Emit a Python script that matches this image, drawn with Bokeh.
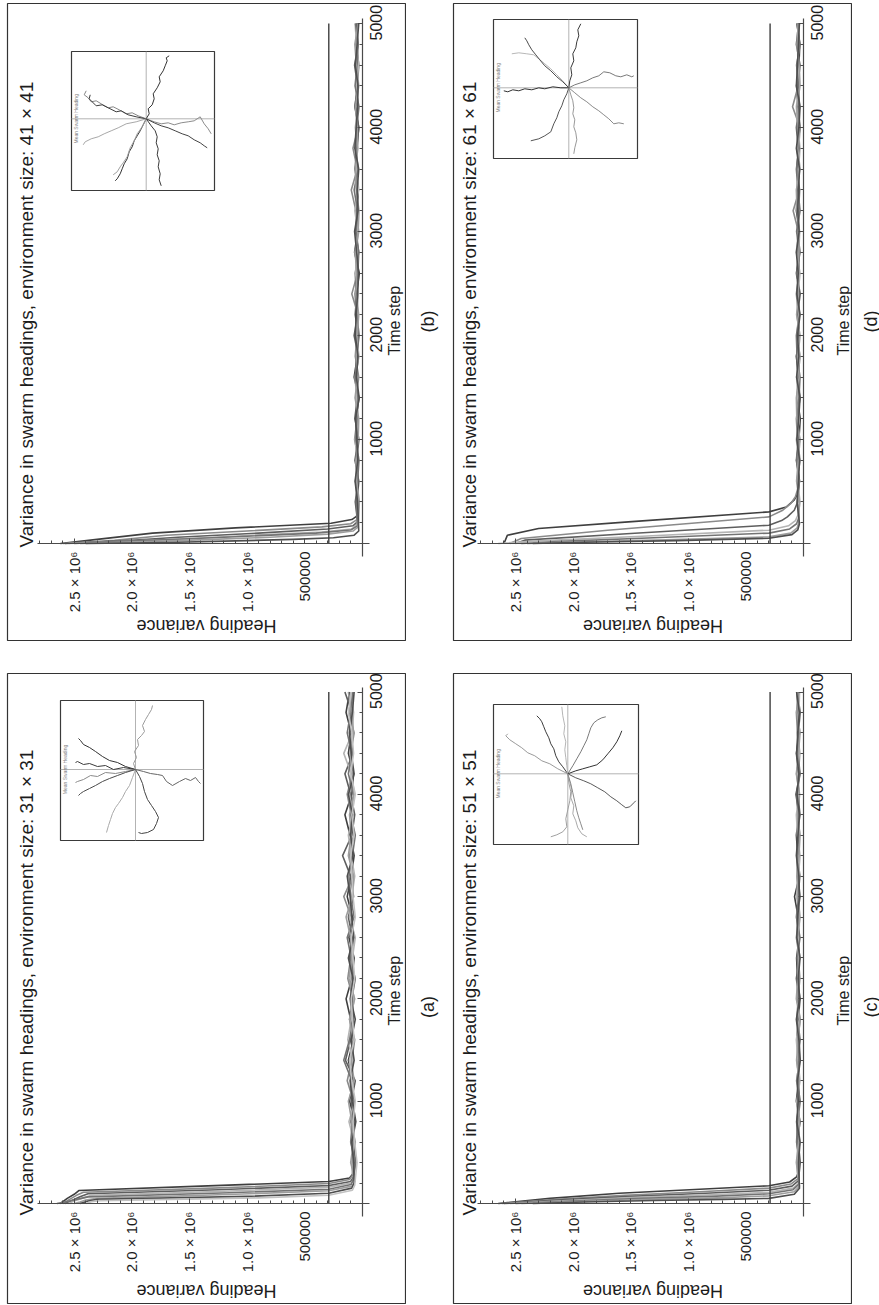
import math
from bokeh.plotting import figure
from bokeh.models import Range1d, FixedTicker, Label, LinearAxis
from bokeh.layouts import column, row
from bokeh.core.properties import value
from bokeh.embed import file_html
from bokeh.resources import INLINE

FONT = "Liberation Sans"
INK = "#1c1c1c"

# ---------------- data ----------------
TIME_TICKS = [1000, 2000, 3000, 4000, 5000]
VAR_TICKS = [500000, 1000000, 1500000, 2000000, 2500000]
VAR_TICK_LABELS = ["500000", "1.0 × 10⁶", "1.5 × 10⁶", "2.0 × 10⁶", "2.5 × 10⁶"]
REF_LEVEL = 290000
REF_T = [0, 5000]
PLATEAU_T = [400, 600, 800, 1000, 1200, 1400, 1600, 1800, 2000, 2200, 2400, 2600,
             2800, 3000, 3200, 3400, 3600, 3800, 4000, 4200, 4400, 4600, 4800, 5000]
SERIES_COLORS = ["#3f3f3f", "#8a8a8a", "#5e5e5e", "#b4b4b4", "#737373", "#9d9d9d", "#4e4e4e", "#c2c2c2"]

# variance values in thousands
A_DROP_T = [[0, 50, 90, 127, 170, 215, 250, 290],
            [0, 40, 80, 110, 150, 195, 235, 275],
            [0, 30, 65, 95, 135, 175, 215, 260],
            [0, 25, 55, 80, 120, 160, 200, 245],
            [0, 20, 45, 65, 105, 140, 185, 230],
            [0, 15, 35, 50, 90, 125, 170, 220],
            [0, 10, 25, 40, 70, 100, 150, 200],
            [0, 8, 18, 28, 55, 80, 130, 180]]
A_DROP_V = [[2620, 2560, 2500, 2460, 1400, 290, 110, 80],
            [2600, 2540, 2480, 2420, 1300, 290, 110, 85],
            [2580, 2520, 2450, 2380, 1250, 290, 100, 75],
            [2550, 2500, 2420, 2350, 1200, 290, 95, 70],
            [2650, 2560, 2460, 2380, 1150, 290, 95, 80],
            [2500, 2450, 2400, 2300, 1100, 290, 90, 60],
            [2450, 2420, 2380, 2300, 1000, 290, 90, 70],
            [2400, 2380, 2350, 2280, 900, 290, 85, 65]]
A_PLATEAU_V = [[70, 95, 60, 110, 80, 120, 75, 100, 140, 90, 70, 115, 85, 130, 95, 70, 105, 150, 90, 75, 120, 95, 140, 110],
               [85, 60, 100, 75, 130, 90, 65, 110, 80, 125, 100, 70, 95, 160, 80, 110, 75, 95, 130, 85, 100, 70, 115, 90],
               [55, 80, 70, 95, 60, 145, 100, 75, 90, 60, 110, 85, 120, 75, 100, 170, 90, 65, 100, 150, 80, 110, 90, 150],
               [90, 70, 115, 65, 100, 80, 125, 95, 70, 100, 85, 60, 110, 90, 65, 95, 120, 80, 110, 95, 160, 85, 75, 100],
               [60, 100, 85, 70, 90, 160, 110, 80, 105, 75, 95, 130, 70, 100, 115, 85, 60, 100, 75, 120, 90, 130, 100, 80],
               [100, 75, 90, 120, 70, 95, 80, 110, 65, 115, 90, 100, 140, 85, 75, 120, 95, 110, 70, 90, 105, 75, 95, 120],
               [75, 90, 55, 85, 105, 70, 95, 60, 100, 80, 120, 75, 90, 105, 130, 80, 100, 85, 120, 70, 95, 110, 85, 70],
               [45, 65, 80, 60, 90, 110, 70, 85, 95, 65, 80, 95, 60, 80, 90, 100, 70, 90, 60, 100, 75, 90, 120, 95]]

B_DROP_T = [[0, 40, 100, 150, 195, 230, 260, 300],
            [0, 30, 80, 120, 160, 190, 230],
            [0, 30, 60, 100, 140, 170, 210],
            [0, 25, 50, 80, 110, 140, 180],
            [0, 20, 45, 70, 100, 130, 170],
            [0, 20, 40, 60, 90, 120, 160],
            [0, 10, 25, 40, 55, 80, 120]]
B_DROP_V = [[2620, 2300, 1820, 1100, 270, 90, 50, 40],
            [2600, 2150, 1700, 1000, 350, 100, 45],
            [2580, 2000, 1600, 900, 300, 80, 40],
            [2550, 1950, 1450, 950, 350, 90, 45],
            [2500, 2100, 1500, 1000, 400, 100, 40],
            [2450, 1800, 1300, 800, 300, 80, 35],
            [2400, 1700, 1100, 600, 250, 70, 30]]
B_PLATEAU_V = [[45, 30, 62, 38, 55, 28, 70, 42, 35, 60, 48, 25, 66, 40, 52, 33, 58, 45, 30, 64, 38, 55, 42, 50],
               [38, 58, 32, 66, 44, 52, 30, 60, 46, 36, 90, 40, 62, 30, 55, 95, 42, 80, 34, 60, 45, 28, 56, 40],
               [60, 35, 50, 28, 64, 42, 55, 33, 70, 38, 52, 60, 30, 58, 44, 36, 62, 48, 30, 56, 40, 66, 35, 52],
               [30, 52, 44, 60, 36, 48, 62, 28, 50, 44, 34, 58, 46, 38, 64, 30, 50, 42, 60, 35, 54, 30, 48, 62],
               [52, 40, 28, 55, 46, 34, 60, 50, 26, 48, 62, 38, 30, 54, 40, 70, 35, 56, 48, 28, 62, 44, 36, 58],
               [25, 48, 56, 35, 30, 62, 40, 52, 44, 30, 56, 46, 62, 35, 28, 52, 60, 38, 44, 58, 30, 50, 64, 34],
               [40, 62, 38, 46, 58, 26, 50, 36, 60, 52, 40, 32, 48, 66, 36, 44, 30, 64, 52, 40, 36, 60, 44, 30]]

C_DROP_T = [[0, 50, 100, 140, 173, 210, 260, 300],
            [0, 40, 80, 115, 150, 190, 240],
            [0, 35, 70, 100, 130, 170, 220],
            [0, 30, 60, 85, 110, 150, 200],
            [0, 25, 50, 70, 95, 135, 190],
            [0, 20, 40, 55, 75, 115, 170],
            [0, 15, 30, 40, 50, 90, 150]]
C_DROP_V = [[2650, 2200, 1600, 900, 300, 120, 60, 45],
            [2620, 2150, 1550, 900, 300, 110, 50],
            [2600, 2100, 1500, 850, 300, 100, 45],
            [2550, 2050, 1450, 800, 300, 90, 40],
            [2500, 2000, 1400, 800, 300, 90, 40],
            [2450, 1950, 1350, 750, 300, 80, 35],
            [2350, 1900, 1300, 700, 300, 80, 35]]
C_PLATEAU_V = [[40, 55, 30, 62, 43, 35, 58, 46, 30, 52, 60, 38, 46, 78, 35, 50, 62, 40, 65, 32, 56, 44, 30, 52],
               [55, 32, 48, 40, 60, 34, 52, 28, 58, 44, 36, 62, 40, 50, 30, 56, 42, 48, 34, 60, 38, 52, 62, 36],
               [28, 46, 60, 36, 42, 55, 30, 50, 40, 62, 34, 46, 56, 30, 48, 38, 58, 30, 50, 42, 62, 34, 46, 58],
               [50, 38, 44, 58, 30, 48, 62, 36, 54, 28, 50, 40, 34, 60, 44, 30, 52, 62, 38, 46, 30, 56, 40, 34],
               [36, 60, 52, 28, 56, 40, 34, 58, 46, 38, 56, 30, 62, 42, 52, 58, 34, 46, 60, 30, 48, 40, 54, 44],
               [62, 44, 34, 50, 38, 60, 46, 30, 62, 50, 42, 54, 30, 48, 58, 40, 30, 52, 36, 62, 44, 30, 58, 48],
               [44, 30, 58, 46, 52, 28, 40, 62, 34, 46, 30, 58, 50, 36, 40, 62, 48, 36, 56, 40, 60, 50, 36, 60]]

D_DROP_T = [[0, 80, 144, 208, 304, 350, 420, 480],
            [0, 48, 128, 256, 320, 385, 450, 544],
            [0, 32, 96, 176, 220, 256, 320, 400],
            [0, 25, 70, 128, 170, 220, 280],
            [0, 20, 55, 100, 140, 190, 250],
            [0, 15, 35, 64, 100, 150, 210],
            [0, 12, 28, 50, 85, 130, 190]]
D_DROP_V = [[2600, 2570, 2300, 1520, 300, 150, 80, 50],
            [2550, 2450, 1700, 300, 180, 110, 70, 45],
            [2500, 2420, 1500, 300, 190, 140, 80, 50],
            [2650, 2300, 1400, 300, 130, 70, 45],
            [2450, 2100, 1300, 300, 120, 60, 40],
            [2400, 2000, 1200, 300, 110, 55, 40],
            [2350, 1900, 1100, 300, 100, 50, 35]]
D_PLATEAU_V = [[48, 34, 60, 40, 28, 56, 42, 62, 36, 50, 30, 58, 44, 36, 62, 50, 38, 56, 30, 48, 60, 40, 32, 56],
               [40, 58, 30, 52, 62, 36, 48, 30, 56, 44, 62, 38, 50, 44, 90, 36, 58, 42, 30, 95, 46, 56, 36, 50],
               [60, 42, 50, 34, 56, 30, 48, 60, 40, 54, 36, 62, 30, 52, 42, 34, 58, 46, 62, 38, 50, 30, 62, 42],
               [30, 52, 40, 62, 36, 50, 60, 32, 54, 40, 48, 30, 62, 46, 34, 58, 44, 30, 50, 62, 36, 48, 52, 34],
               [52, 36, 62, 44, 50, 40, 30, 56, 62, 34, 52, 44, 36, 60, 30, 48, 62, 38, 56, 34, 44, 60, 30, 58],
               [36, 60, 46, 30, 58, 62, 38, 48, 30, 60, 44, 52, 40, 34, 56, 62, 30, 50, 44, 58, 30, 38, 56, 46],
               [56, 44, 34, 58, 42, 30, 60, 40, 52, 30, 58, 46, 62, 38, 50, 44, 34, 62, 40, 30, 62, 52, 44, 36]]

# inset trajectories (mean swarm heading, in the rotated inset frame)
INSET_A = [
    ([0, -10, -18, -26, -33, -40, -46, -52, -55, -57], [0, 3, 7, 9, 13, 18, 22, 25, 29, 31], "#333333"),
    ([0, -12, -22, -30, -38, -46, -52, -58, -60], [0, 2, 0, 4, 3, 6, 5, 8, 7], "#3a3a3a"),
    ([0, -10, -20, -30, -38, -45, -52, -58, -60], [0, -2, -4, -3, -7, -6, -10, -12, -13], "#8a8a8a"),
    ([0, -10, -18, -26, -33, -40, -46, -52, -55, -57], [0, -3, -6, -9, -12, -16, -19, -22, -24, -26], "#4a4a4a"),
    ([0, -2, 1, -1, 3, 2, 6, 9, 7, 10, 13, 16, 17], [0, 6, 12, 18, 24, 30, 34, 38, 44, 50, 55, 60, 64], "#9a9a9a"),
    ([0, 8, 15, 22, 27, 31, 37, 44, 50, 55, 60, 63, 65], [0, -2, -4, -5, -6, -12, -16, -12, -9, -11, -8, -12, -14], "#666666"),
    ([0, -3, -6, -10, -13, -17, -20, -23, -25, -27, -29], [0, -8, -16, -22, -28, -34, -38, -44, -50, -56, -63], "#aaaaaa"),
    ([0, 4, 7, 9, 12, 16, 20, 23, 21, 18, 12, 6, 3], [0, -7, -14, -22, -30, -36, -42, -48, -54, -60, -63, -64, -63], "#444444"),
]
INSET_B = [
    ([0, 3, 2, 6, 8, 7, 11, 14, 13, 17, 19, 21, 20, 23], [0, 5, 10, 14, 20, 25, 31, 37, 42, 48, 53, 58, 61, 63], "#333333"),
    ([0, -8, -14, -20, -27, -33, -38, -45, -50, -55, -58, -62, -60], [0, 3, 6, 5, 9, 12, 11, 15, 18, 17, 21, 24, 28], "#888888"),
    ([0, -10, -18, -25, -30, -38, -44, -50, -54, -57, -56], [0, 2, 4, 8, 7, 11, 14, 13, 17, 20, 24], "#3c3c3c"),
    ([0, -10, -20, -28, -35, -42, -48, -55, -61, -63], [0, -3, -5, -9, -12, -15, -18, -20, -23, -26], "#a8a8a8"),
    ([0, -3, -6, -9, -12, -14, -17, -19, -22, -24, -26, -29, -31], [0, -6, -12, -17, -22, -28, -33, -40, -45, -50, -55, -60, -62], "#333333"),
    ([0, -4, -9, -12, -16, -19, -23, -26, -29, -33], [0, -8, -15, -22, -29, -38, -44, -48, -53, -56], "#a0a0a0"),
    ([0, 5, 9, 11, 10, 12, 11, 13, 12, 14, 13, 15], [0, -7, -12, -18, -24, -30, -36, -42, -48, -55, -61, -67], "#3a3a3a"),
    ([0, 8, 15, 22, 28, 35, 42, 48, 54, 58, 62, 65], [0, -3, -5, -4, -6, -4, -3, -2, 2, -5, -10, -15], "#8c8c8c"),
    ([0, 8, 15, 22, 29, 36, 42, 48, 54, 58, 61], [0, -4, -7, -9, -12, -15, -17, -21, -24, -27, -29], "#444444"),
]
INSET_C = [
    ([0, -5, -9, -12, -14, -17, -19, -22, -24, -26, -28, -31], [0, 7, 12, 18, 25, 30, 36, 42, 47, 52, 55, 58], "#3c3c3c"),
    ([0, -10, -18, -26, -33, -40, -46, -52, -58, -62, -60], [0, 5, 10, 13, 18, 21, 26, 30, 34, 38, 40], "#9a9a9a"),
    ([0, -1, -2, -3, -2, -4, -3, -5, -6], [0, 8, 16, 24, 32, 40, 48, 58, 67], "#b5b5b5"),
    ([0, 5, 9, 13, 16, 19, 21, 23, 26, 30, 34, 38], [0, 8, 15, 22, 28, 34, 40, 46, 51, 54, 56, 57], "#7a7a7a"),
    ([0, 8, 15, 22, 29, 35, 40, 45, 49, 52, 54], [0, 3, 5, 7, 9, 14, 20, 26, 32, 38, 43], "#333333"),
    ([0, 8, 16, 23, 30, 37, 43, 49, 54, 58, 62, 66, 68], [0, -4, -7, -10, -14, -18, -23, -27, -31, -34, -33, -29, -27], "#5a5a5a"),
    ([0, 2, 4, 3, 6, 5, 8, 10, 14, 19], [0, -8, -16, -24, -32, -40, -47, -54, -60, -63], "#aaaaaa"),
    ([0, 1, 3, 2, 0, -2, -1, -5, -11, -17], [0, -9, -18, -27, -36, -45, -53, -58, -61, -63], "#a0a0a0"),
    ([0, 3, 5, 7, 9, 11, 13, 15], [0, -10, -19, -28, -37, -44, -50, -56], "#8a8a8a"),
]
INSET_D = [
    ([0, 1, 3, 2, 5, 4, 7, 8, 10, 9, 12], [0, 7, 13, 20, 27, 34, 40, 46, 52, 58, 64], "#3a3a3a"),
    ([0, -6, -12, -18, -24, -30, -35, -42, -50, -57], [0, 7, 13, 19, 24, 29, 33, 34, 35, 34], "#b8b8b8"),
    ([0, -6, -12, -18, -24, -29, -33, -37, -40, -42, -44], [0, 6, 11, 17, 22, 28, 33, 38, 43, 47, 50], "#4a4a4a"),
    ([0, -8, -16, -24, -30, -37, -44, -50, -56, -61, -65], [0, 0, 1, -1, 0, -2, -1, -3, -2, -4, -3], "#333333"),
    ([0, 6, 12, 18, 24, 30, 35, 41, 47, 52, 58, 63, 65], [0, 3, 5, 7, 10, 12, 16, 15, 12, 11, 13, 11, 12], "#7a7a7a"),
    ([0, 6, 12, 18, 24, 30, 35, 40, 45, 50, 55], [0, -5, -10, -14, -19, -23, -27, -31, -36, -35, -36], "#8a8a8a"),
    ([0, -2, -5, -7, -10, -12, -15, -18, -24, -30, -38], [0, -6, -12, -18, -24, -30, -36, -44, -48, -51, -53], "#555555"),
    ([0, 2, 4, 5, 4, 6, 5, 7, 8, 6, 5], [0, -7, -13, -20, -26, -32, -39, -45, -52, -60, -66], "#999999"),
]

# ---------------- layout constants (pixels, relative to each panel box) ----------------
PX_PER_HALF_MILLION = 57.6
BOX_W = 398
LEFT_COL = dict(panel_w=406, ml=7, zero_x=354.7, axis_left=30, title_x=18.5, tstep_x=387, hv_x=199,
                tag_w=46, tag_x=21)
RIGHT_COL = dict(panel_w=400, ml=1, zero_x=350.0, axis_left=24, title_x=16.0, tstep_x=390, hv_x=199.5,
                 tag_w=27, tag_x=18)
TOP_ROW = dict(H=641, mt=3, BH=637, zero_y=540, pps=0.104, time_top=15, title_y=544, tstep_y=352,
               hv_y=622, tag_y=320)
BOT_ROW = dict(H=663, mt=32, BH=630, zero_y=530, pps=0.1023, time_top=14, title_y=542, tstep_y=352,
               hv_y=617, tag_y=351)


def make_panel(col, rw, title, drop_t, drop_v, plat_v, inset, inset_box, inset_origin):
    BH = rw["BH"]
    pxv = PX_PER_HALF_MILLION / 500000.0          # pixels per unit variance
    pps = rw["pps"]                                # pixels per time step
    x_left = col["zero_x"] / pxv
    x_right = -(BOX_W - col["zero_x"]) / pxv
    y_top = rw["zero_y"] / pps
    y_bot = -(BH - rw["zero_y"]) / pps

    def dx(rx):
        return x_left + rx * (x_right - x_left) / BOX_W

    def dy(ry):
        return y_top - ry * (y_top - y_bot) / BH

    W = col["panel_w"]
    p = figure(width=W, height=rw["H"],
               x_range=Range1d(x_left, x_right), y_range=Range1d(y_bot, y_top),
               x_axis_location=None, y_axis_location=None,
               output_backend="svg", toolbar_location=None,
               min_border_left=col["ml"], min_border_right=W - col["ml"] - BOX_W,
               min_border_top=rw["mt"], min_border_bottom=rw["H"] - rw["mt"] - BH)
    p.outline_line_color = "#333333"
    p.outline_line_width = 1.2
    p.grid.visible = False
    p.background_fill_color = "white"
    p.border_fill_color = "white"

    def style(ax):
        ax.axis_line_color = "#4a4a4a"
        ax.axis_line_width = 1.2
        ax.major_tick_line_color = "#4a4a4a"
        ax.minor_tick_line_color = "#4a4a4a"
        ax.major_tick_in = 5
        ax.major_tick_out = 0
        ax.minor_tick_in = 3
        ax.minor_tick_out = 0
        ax.major_label_orientation = math.pi / 2
        ax.major_label_text_font = FONT
        ax.major_label_text_font_size = "15px"
        ax.major_label_text_color = INK

    # variance axis (crosses at time 0)
    xa = LinearAxis(fixed_location=0, bounds=(dx(col["zero_x"] + 7), dx(col["axis_left"])),
                    ticker=FixedTicker(ticks=VAR_TICKS, minor_ticks=[k * 100000 for k in range(1, 29)]))
    style(xa)
    xa.major_label_overrides = dict(zip(VAR_TICKS, VAR_TICK_LABELS))
    xa.major_label_standoff = 8
    p.add_layout(xa, "below")

    # time axis (crosses at variance 0): line and ticks
    ya = LinearAxis(fixed_location=0, bounds=(dy(rw["zero_y"] + 13), dy(rw["time_top"])),
                    ticker=FixedTicker(ticks=TIME_TICKS, minor_ticks=[k * 200 for k in range(1, 26)]))
    style(ya)
    ya.major_label_text_color = None
    p.add_layout(ya, "right")

    # time axis: tick labels, centred on their ticks
    half = 17.0 / pps
    shifted = [int(round(t - half)) for t in TIME_TICKS]
    yl = LinearAxis(fixed_location=0, ticker=FixedTicker(ticks=shifted))
    yl.axis_line_color = None
    yl.major_tick_line_color = None
    yl.minor_tick_line_color = None
    yl.major_tick_out = 0
    yl.major_tick_in = 0
    yl.minor_tick_out = 0
    yl.minor_tick_in = 0
    yl.major_label_orientation = math.pi / 2
    yl.major_label_text_font = FONT
    yl.major_label_text_color = INK
    yl.major_label_text_font_size = "16px"
    yl.major_label_overrides = {s: str(t) for s, t in zip(shifted, TIME_TICKS)}
    yl.major_label_standoff = 14
    p.add_layout(yl, "right")

    # runs
    for i, (dt, dv, pv) in enumerate(zip(drop_t, drop_v, plat_v)):
        t = list(dt) + [pt for pt in PLATEAU_T if pt > dt[-1]]
        vk = list(dv) + [val for pt, val in zip(PLATEAU_T, pv) if pt > dt[-1]]
        p.line(x=[k * 1000 for k in vk], y=t, line_color=SERIES_COLORS[i % len(SERIES_COLORS)],
               line_width=1.6, line_join="round")

    # reference level
    p.line(x=[REF_LEVEL, REF_LEVEL], y=REF_T, line_color="#3e3e3e", line_width=1.4)

    # inset
    ox, oy = inset_origin
    bx0, by0, bx1, by1 = inset_box
    p.extra_x_ranges = {"iu": Range1d(0 - ox, BOX_W - ox)}
    p.extra_y_ranges = {"iw": Range1d(oy - BH, oy - 0)}
    p.quad(left=[bx0 - ox], right=[bx1 - ox], top=[oy - by0], bottom=[oy - by1],
           x_range_name="iu", y_range_name="iw",
           fill_color="white", line_color="#3a3a3a", line_width=1.2)
    p.segment(x0=[bx0 - ox, 0], y0=[0, oy - by1], x1=[bx1 - ox, 0], y1=[0, oy - by0],
              x_range_name="iu", y_range_name="iw", line_color="#a0a0a0", line_width=0.8)
    for u, w, c in inset:
        p.line(x=u, y=w, x_range_name="iu", y_range_name="iw", line_color=c, line_width=1.0)
    p.text(x=[bx0 - ox + 4], y=[0], text=["Mean Swarm Heading"], angle=math.pi / 2,
           x_range_name="iu", y_range_name="iw", text_font=value(FONT), text_font_size="5px",
           text_color="#808080", text_align="center", text_baseline="middle")

    # texts inside the box
    p.add_layout(Label(x=dx(col["title_x"]), y=dy(rw["title_y"]), text=title, angle=math.pi / 2,
                       text_align="left", text_baseline="middle", text_font=FONT,
                       text_font_size="19px", text_color=INK))
    p.add_layout(Label(x=dx(col["tstep_x"]), y=dy(rw["tstep_y"]), text="Time step", angle=math.pi / 2,
                       text_align="left", text_baseline="middle", text_font=FONT,
                       text_font_size="16px", text_color=INK))
    p.add_layout(Label(x=dx(col["hv_x"]), y=dy(rw["hv_y"]), text="Heading variance", angle=math.pi,
                       text_align="center", text_baseline="middle", text_font=FONT,
                       text_font_size="18px", text_color=INK))
    return p


def make_tag(col, rw, tag):
    w, h = col["tag_w"], rw["H"]
    t = figure(width=w, height=h, x_range=Range1d(0, w), y_range=Range1d(0, h),
               x_axis_location=None, y_axis_location=None,
               output_backend="svg", toolbar_location=None,
               min_border_left=0, min_border_right=0, min_border_top=0, min_border_bottom=0)
    t.outline_line_color = None
    t.grid.visible = False
    t.add_layout(Label(x=col["tag_x"], y=h - rw["tag_y"], text=tag, angle=math.pi / 2,
                       text_align="center", text_baseline="middle", text_font=FONT,
                       text_font_size="18px", text_color=INK))
    return t


pb = make_panel(LEFT_COL, TOP_ROW, "Variance in swarm headings, environment size: 41 × 41",
                B_DROP_T, B_DROP_V, B_PLATEAU_V, INSET_B, (64, 48, 207, 187), (138.7, 115.3))
pd = make_panel(RIGHT_COL, TOP_ROW, "Variance in swarm headings, environment size: 61 × 61",
                D_DROP_T, D_DROP_V, D_PLATEAU_V, INSET_D, (40, 16, 184, 155), (115.3, 84.3))
pa = make_panel(LEFT_COL, BOT_ROW, "Variance in swarm headings, environment size: 31 × 31",
                A_DROP_T, A_DROP_V, A_PLATEAU_V, INSET_A, (53, 27, 196, 167), (128, 96))
pc = make_panel(RIGHT_COL, BOT_ROW, "Variance in swarm headings, environment size: 51 × 51",
                C_DROP_T, C_DROP_V, C_PLATEAU_V, INSET_C, (40, 31, 185, 171), (114.3, 100.3))

layout = column(row(pb, make_tag(LEFT_COL, TOP_ROW, "(b)"), pd, make_tag(RIGHT_COL, TOP_ROW, "(d)")),
                row(pa, make_tag(LEFT_COL, BOT_ROW, "(a)"), pc, make_tag(RIGHT_COL, BOT_ROW, "(c)")))
open("out.html", "w").write(file_html(layout, INLINE))
